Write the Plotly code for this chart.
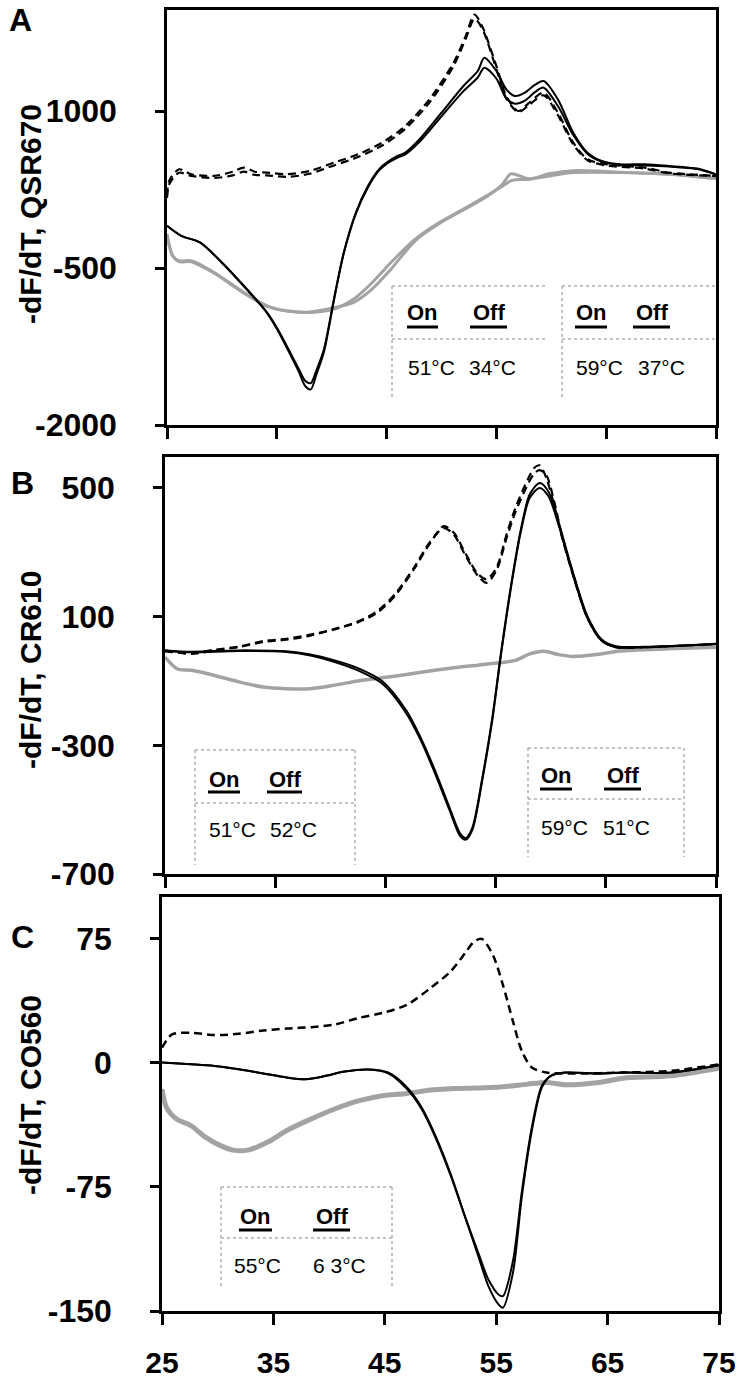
import plotly.graph_objects as go

# ---------------- data ----------------
# Panel A  (QSR670)
A_solid_T = [25, 26.3, 28, 30, 32, 34, 35, 35.9, 37, 37.6, 38.1, 38.6, 39.3, 40.2, 41.1, 42.2, 43.3, 44.3, 45, 46,
             46.7, 48, 50, 52, 53.3, 53.9, 55, 55.9, 56.7, 57.6, 58.5, 59.3, 60.6, 62, 63.3, 64.6, 66.3, 68.5, 70.7, 73.3, 75]
A_solid_1 = [-97, -193, -256, -447, -670, -909, -1068, -1243, -1465, -1580, -1600, -1480, -1274, -797, -352, 30, 284, 443, 507, 570,
             602, 730, 984, 1239, 1382, 1509, 1382, 1207, 1143, 1175, 1250, 1286, 1111, 793, 602, 523, 491, 491, 475, 450, 396]
A_solid_2 = [-97, -193, -256, -450, -675, -915, -1080, -1260, -1490, -1630, -1660, -1520, -1300, -810, -360, 20, 270, 430, 495, 555,
             585, 705, 950, 1190, 1320, 1414, 1310, 1120, 1070, 1100, 1180, 1223, 1048, 770, 590, 515, 485, 480, 470, 445, 392]

A_dash_T = [25, 25.2, 26.1, 27.2, 29.3, 31, 32, 33, 34.1, 35.9, 38, 40.2, 42.4, 44.6, 46.7, 48.9, 51.1, 52.2, 53, 53.7,
            55, 55.9, 57, 58, 59.3, 60.6, 62, 63.3, 65, 68.5, 70.7, 75]
A_dash_1 = [189, 332, 443, 396, 380, 420, 459, 420, 412, 396, 427, 507, 586, 698, 857, 1111, 1461, 1716, 1922, 1811,
            1429, 1143, 1000, 1080, 1175, 984, 698, 539, 491, 459, 412, 380]
A_dash_2 = [170, 300, 410, 380, 360, 385, 420, 390, 385, 370, 400, 480, 560, 670, 830, 1080, 1430, 1690, 1880, 1790,
            1400, 1120, 990, 1060, 1150, 960, 680, 530, 480, 450, 405, 378]

A_gray_T = [25, 25.5, 26.1, 27.2, 29.3, 32, 34.1, 35.9, 38, 40.2, 42, 43.7, 45.4, 47.6, 49.8, 52, 54.1, 55.5, 56.3, 57,
            58, 59.8, 62, 66.3, 70.7, 75]
A_gray_1 = [-177, -380, -431, -431, -543, -734, -861, -909, -925, -893, -797, -638, -447, -225, -66, 62, 189, 280, 332, 345,
            348, 380, 412, 412, 396, 354]
A_gray_2 = [-177, -380, -440, -440, -550, -740, -865, -912, -920, -880, -829, -700, -511, -240, -75, 55, 180, 295, 400, 385,
            352, 400, 430, 415, 398, 354]

# Panel B  (CR610)
B_solid_T = [25, 27.4, 31.7, 36, 38.2, 40.4, 42.5, 44.7, 46.9, 48.2, 49.5, 50.8, 51.8, 52.3, 52.9, 53.8, 54.7, 55.5, 56.4, 57.3,
             58.1, 59, 59.8, 60.7, 62, 63.3, 64.6, 65.9, 68.5, 75]
B_solid_1 = [-7, -11, -7, -10, -21, -41, -67, -108, -201, -284, -387, -500, -583, -593, -562, -407, -222, -16, 191, 366,
             469, 500, 474, 387, 232, 98, 26, 5, 5, 15]
B_solid_2 = [-5, -9, -5, -8, -18, -36, -60, -100, -192, -276, -378, -492, -575, -588, -555, -400, -215, -10, 197, 372,
             480, 515, 488, 395, 240, 104, 30, 8, 6, 15]

B_dash_T = [25, 27.4, 29.5, 31.7, 33.9, 36, 38.2, 40.4, 42.5, 44.3, 46, 47.7, 49, 50.3, 51.2, 52.3, 53.4, 54.2, 55.1, 56,
            56.8, 57.7, 58.5, 59, 59.6, 60.3, 61, 62, 63.3, 64.6, 65.9, 68.5, 75]
B_dash_1 = [-5, -16, -5, 5, 21, 28, 41, 62, 82, 113, 170, 253, 325, 381, 361, 294, 232, 216, 253, 356,
            438, 510, 562, 570, 531, 448, 350, 232, 98, 26, 5, 5, 15]
B_dash_2 = [-8, -14, -3, 7, 24, 31, 44, 60, 85, 118, 175, 258, 330, 375, 355, 288, 226, 205, 245, 345,
            425, 495, 545, 555, 540, 460, 355, 236, 100, 27, 6, 5, 15]

B_gray_T = [25, 26.1, 27.4, 29.5, 31.7, 33.9, 36, 38.2, 40.4, 42.5, 44.7, 46.9, 49, 51.2, 53.4, 55.5, 56.8, 58.1, 59.4, 60.7,
            62, 64.2, 66.3, 70.7, 75]
B_gray = [-26, -62, -67, -83, -103, -119, -124, -124, -113, -100, -90, -80, -69, -59, -51, -43, -36, -16, -8, -18,
          -24, -18, -7, 0, 5]

# Panel C  (CO560)
C_solid_T = [25, 27.6, 29.7, 31.9, 34.1, 36.2, 37.9, 39.7, 41.4, 43.5, 45.3, 47, 48.3, 49.6, 50.9, 52.2, 53.4, 54.3, 55.2, 55.6,
             56.5, 57.3, 58.2, 59.1, 59.9, 61.2, 64.2, 66.4, 70.7, 75]
C_solid_1 = [0, -1, -2, -4, -6.6, -9, -10, -8, -5.4, -4.2, -6, -15, -27, -45, -67, -93, -117, -135, -146, -148,
             -127, -81, -41, -15, -8, -6, -6.6, -6, -6, -1.6]
C_solid_2 = [0, -1, -2, -4, -6.6, -9, -10, -8, -5.4, -4.2, -6.5, -16, -28, -46, -68, -93, -115, -131, -140, -141,
             -120, -78, -39, -14, -8, -6, -6.6, -6, -6, -1.6]

C_dash_T = [25, 25.9, 27.6, 29.7, 31.9, 34.1, 36.2, 38.4, 40.5, 42.7, 44.8, 47, 49.1, 50.9, 52.2, 53, 53.7, 54.7, 55.6, 56.5,
            57.3, 58.2, 59.5, 62.1, 66.4, 70.7, 75]
C_dash = [9, 17, 18, 16.6, 17.4, 19.4, 20.6, 21.4, 23, 27, 30, 35, 45, 55, 66, 73, 74.7, 65, 47, 25,
          7, -3, -6, -6.6, -6, -5, -1]

C_gray_T = [25, 25.4, 26.3, 27.6, 28.9, 30.2, 31.5, 32.8, 34.5, 36.2, 38.4, 40.5, 42.7, 44.8, 47, 49.1, 51.3, 53.4, 55.6, 57.8,
            59.5, 61.2, 64.2, 66.4, 70.7, 75]
C_gray = [-16, -27, -34, -38, -45, -50, -53, -52.7, -48, -41, -34, -28, -23, -20, -18.6, -16.6, -15.6, -15.4, -14.6, -13,
          -12, -13.4, -12, -9.4, -8, -3.4]

x_ticks = [25, 35, 45, 55, 65, 75]
A_yticks = [-2000, -500, 1000]
B_yticks = [-700, -300, 100, 500]
C_yticks = [-150, -75, 0, 75]
y_titles = ["-dF/dT, QSR670", "-dF/dT, CR610", "-dF/dT, CO560"]
panel_letters = ["A", "B", "C"]
A_tables = [("51°C", "34°C"), ("59°C", "37°C")]
B_tables = [("51°C", "52°C"), ("59°C", "51°C")]
C_tables = [("55°C", "6 3°C")]

# ---------------- figure ----------------
W, H = 750, 1379
def px(x):
    return x / W
def py(y):
    return 1 - y / H

BLACK = "#000000"
GRAY = "#a3a3a3"
FONT = "Liberation Sans, Arial, sans-serif"

fig = go.Figure()

def add(xs, ys, axis, color, width, dash="solid"):
    fig.add_trace(go.Scatter(x=xs, y=ys, mode="lines", xaxis="x" + axis, yaxis="y" + axis,
                             line=dict(color=color, width=width, dash=dash, shape="spline", smoothing=0.8),
                             showlegend=False, hoverinfo="skip"))

# Panel A
add(A_gray_T, A_gray_1, "", GRAY, 3)
add(A_gray_T, A_gray_2, "", GRAY, 3)
add(A_dash_T, A_dash_1, "", BLACK, 2.2, "8px,5px")
add(A_dash_T, A_dash_2, "", BLACK, 2.2, "8px,5px")
add(A_solid_T, A_solid_1, "", BLACK, 2)
add(A_solid_T, A_solid_2, "", BLACK, 2)
# Panel B
add(B_gray_T, B_gray, "2", GRAY, 3.5)
add(B_dash_T, B_dash_1, "2", BLACK, 2.2, "8px,5px")
add(B_dash_T, B_dash_2, "2", BLACK, 2.2, "8px,5px")
add(B_solid_T, B_solid_1, "2", BLACK, 2)
add(B_solid_T, B_solid_2, "2", BLACK, 2)
# Panel C
add(C_gray_T, C_gray, "3", GRAY, 5)
add(C_dash_T, C_dash, "3", BLACK, 2.5, "8px,5px")
add(C_solid_T, C_solid_1, "3", BLACK, 2)
add(C_solid_T, C_solid_2, "3", BLACK, 2)

ytickfont = dict(family=FONT, size=32, color="black", weight="bold")
xtickfont = dict(family=FONT, size=30, color="black", weight="bold")

def xaxis(domain, anchor, labels):
    return dict(domain=domain, anchor=anchor, range=[25, 75], tickvals=x_ticks,
                ticktext=[str(v) for v in x_ticks],
                showticklabels=labels, ticks="outside", ticklen=11, tickwidth=2.5, tickcolor="black",
                showline=True, linecolor="black", linewidth=2.5, mirror=True, showgrid=False, zeroline=False,
                tickfont=xtickfont, ticklabelstandoff=12, automargin=False)

def yaxis(domain, anchor, rng, tv):
    return dict(domain=domain, anchor=anchor, range=rng, tickvals=tv,
                ticktext=[str(v) for v in tv],
                ticks="outside", ticklen=9, tickwidth=2.5, tickcolor="black",
                showline=True, linecolor="black", linewidth=2.5, mirror=True, showgrid=False, zeroline=False,
                tickfont=ytickfont, ticklabelstandoff=32, automargin=False)

fig.update_layout(
    width=W, height=H, margin=dict(l=0, r=0, t=0, b=0, autoexpand=False),
    paper_bgcolor="white", plot_bgcolor="white",
    xaxis=xaxis([px(167), px(716)], "y", False),
    yaxis=yaxis([py(425), py(10)], "x", [-2000, 1965], A_yticks),
    xaxis2=xaxis([px(165), px(716)], "y2", False),
    yaxis2=yaxis([py(874), py(457)], "x2", [-700, 596], B_yticks),
    xaxis3=xaxis([px(162), px(719)], "y3", True),
    yaxis3=yaxis([py(1311), py(897)], "x3", [-150, 100], C_yticks),
)

annotations = []
shapes = []

# y titles and panel letters
for title, yc in zip(y_titles, [214, 670, 1095]):
    annotations.append(dict(text="<b>" + title + "</b>", x=px(30), y=py(yc), xref="paper", yref="paper",
                            textangle=-90, showarrow=False, xanchor="center", yanchor="middle",
                            font=dict(family=FONT, size=30, color="black")))
for letter, (lx, ly) in zip(panel_letters, [(20, 20), (22, 483), (22, 937)]):
    annotations.append(dict(text="<b>" + letter + "</b>", x=px(lx), y=py(ly), xref="paper", yref="paper",
                            showarrow=False, xanchor="center", yanchor="middle",
                            font=dict(family=FONT, size=32, color="black")))

DOT = dict(color="#b0b0b0", width=1.5, dash="dot")

def table(left, right, top, div, bottom, right_line, on_x, off_x, head_y, ul_y, val_y, vals, v1x, v2x):
    shapes.append(dict(type="line", xref="paper", yref="paper", x0=px(left), x1=px(right), y0=py(top), y1=py(top), line=DOT))
    shapes.append(dict(type="line", xref="paper", yref="paper", x0=px(left), x1=px(right), y0=py(div), y1=py(div), line=DOT))
    shapes.append(dict(type="line", xref="paper", yref="paper", x0=px(left), x1=px(left), y0=py(top), y1=py(bottom), line=DOT))
    if right_line:
        shapes.append(dict(type="line", xref="paper", yref="paper", x0=px(right), x1=px(right), y0=py(top), y1=py(bottom), line=DOT))
    for word, (x0, x1) in (("On", on_x), ("Off", off_x)):
        annotations.append(dict(text="<b>" + word + "</b>", x=px((x0 + x1) / 2), y=py(head_y), xref="paper", yref="paper",
                                showarrow=False, xanchor="center", yanchor="middle",
                                font=dict(family=FONT, size=22, color="black")))
        shapes.append(dict(type="line", xref="paper", yref="paper", x0=px(x0), x1=px(x1), y0=py(ul_y), y1=py(ul_y),
                           line=dict(color="black", width=3)))
    for txt, xc in zip(vals, (v1x, v2x)):
        annotations.append(dict(text=txt, x=px(xc), y=py(val_y), xref="paper", yref="paper",
                                showarrow=False, xanchor="center", yanchor="middle",
                                font=dict(family=FONT, size=21, color="black")))

# Panel A tables
table(392, 548, 286, 339, 397, False, (407, 438), (470, 507), 312, 327, 367, A_tables[0], 431, 492)
table(562, 716, 286, 339, 397, False, (575, 607), (633, 670), 312, 327, 367, A_tables[1], 599, 661)
# Panel B tables
table(195, 355, 750, 803, 865, True, (208, 240), (267, 302), 779, 792, 830, B_tables[0], 232, 293)
table(528, 684, 748, 799, 857, True, (540, 572), (604, 641), 776, 789, 827, B_tables[1], 564, 626)
# Panel C table
table(221, 392, 1187, 1238, 1288, True, (239, 272), (313, 350), 1216, 1230, 1265, C_tables[0], 257, 339)

fig.update_layout(annotations=annotations, shapes=shapes)
fig.write_html("out.html", config={"displayModeBar": False},
               post_script="document.body.style.margin='0';document.body.style.padding='0';"
                           "document.documentElement.style.overflow='hidden';")
